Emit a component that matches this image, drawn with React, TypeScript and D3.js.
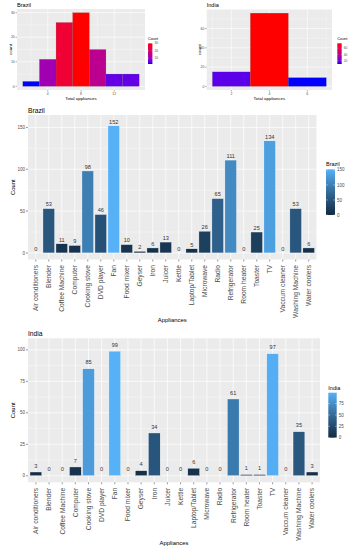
import * as d3 from "d3";

const categories = [
  "Air conditioners", "Blender", "Coffee Machine", "Computer", "Cooking stove",
  "DVD player", "Fan", "Food mixer", "Geyser", "Iron", "Juicer", "Kettle",
  "Laptop/Tablet", "Microwave", "Radio", "Refrigerator", "Room heater",
  "Toaster", "TV", "Vaccum cleaner", "Washing Machine", "Water coolers",
];
const brazilCounts = [0, 53, 11, 9, 98, 46, 152, 10, 2, 6, 13, 0, 5, 26, 65, 111, 0, 25, 134, 0, 53, 6];
const indiaCounts = [3, 0, 0, 7, 85, 0, 99, 0, 4, 34, 0, 0, 6, 0, 0, 61, 1, 1, 97, 0, 35, 3];
const brazilYTicks = [0, 50, 100, 150];
const indiaYTicks = [0, 25, 50, 75, 100];
const brazilLegendTicks = [0, 50, 100, 150];
const indiaLegendTicks = [0, 25, 50, 75];

// histograms of total appliances per household
const binWidth = 2;
const brazilBinStarts = [1, 3, 5, 7, 9, 11, 13];
const brazilBinCounts = [2, 11, 26, 30, 15, 5, 5];
const brazilHistXTicks = [4, 8, 12];
const brazilHistYTicks = [0, 10, 20, 30];
const brazilHistLegendTicks = [10, 20, 30];
const indiaBinStarts = [1, 3, 5];
const indiaBinCounts = [15, 76, 9];
const indiaHistXTicks = [2, 4, 6];
const indiaHistYTicks = [0, 20, 40, 60];
const indiaHistLegendTicks = [20, 40, 60];

const font = "Liberation Sans, Arial, sans-serif";
const panelBg = "#EBEBEB";
const tickCol = "#4D4D4D";

function minorBreaks(major: number[], domain: number[]) {
  const step = major[1] - major[0];
  const out: number[] = [];
  for (let v = major[0] - step / 2; v <= domain[1]; v += step) if (v >= domain[0]) out.push(v);
  return out;
}

function ColorBar({ id, scale, ticks, x, y0, y1, w, title, titleSize, labelSize }: any) {
  const [lo, hi] = scale.domain();
  const ly = d3.scaleLinear([lo, hi], [y1, y0]);
  const stops = d3.range(0, 1.0001, 0.1);
  return (
    <g>
      <defs>
        <linearGradient id={id} x1="0" y1="1" x2="0" y2="0">
          {stops.map((t) => (
            <stop key={t} offset={t} stopColor={scale(lo + t * (hi - lo))} />
          ))}
        </linearGradient>
      </defs>
      <text x={x} y={y0 - 3} fontSize={titleSize} fill="#000">{title}</text>
      <rect x={x} y={y0} width={w} height={y1 - y0} fill={`url(#${id})`} />
      {ticks.map((t: number) => (
        <g key={t}>
          <line x1={x} x2={x + w * 0.2} y1={ly(t)} y2={ly(t)} stroke="#fff" strokeWidth={0.4} />
          <line x1={x + w * 0.8} x2={x + w} y1={ly(t)} y2={ly(t)} stroke="#fff" strokeWidth={0.4} />
          <text x={x + w + 2} y={ly(t)} dy="0.35em" fontSize={labelSize} fill={tickCol}>{t}</text>
        </g>
      ))}
    </g>
  );
}

function Histogram({ id, title, starts, counts, xTicks, yTicks, legendTicks, left, right, top, bottom, legendX }: any) {
  const x0 = d3.min(starts as number[])!;
  const x1 = d3.max(starts as number[])! + binWidth;
  const pad = (x1 - x0) * 0.05;
  const x = d3.scaleLinear([x0 - pad, x1 + pad], [left, right]);
  const maxC = d3.max(counts as number[])!;
  const y = d3.scaleLinear([-maxC * 0.05, maxC * 1.05], [bottom, top]);
  const color = d3
    .scaleLinear<string>([d3.min(counts as number[])!, maxC], ["blue", "red"])
    .interpolate(d3.interpolateLab);
  const xMinor = minorBreaks(xTicks, x.domain());
  const yMinor = minorBreaks(yTicks, y.domain());
  return (
    <g fontFamily={font}>
      <text x={left} y={7.3} fontSize={5.6} fill="#000">{title}</text>
      <rect x={left} y={top} width={right - left} height={bottom - top} fill={panelBg} />
      {xMinor.map((v) => (
        <line key={"xm" + v} x1={x(v)} x2={x(v)} y1={top} y2={bottom} stroke="#fff" strokeWidth={0.3} />
      ))}
      {yMinor.map((v) => (
        <line key={"ym" + v} x1={left} x2={right} y1={y(v)} y2={y(v)} stroke="#fff" strokeWidth={0.3} />
      ))}
      {xTicks.map((v: number) => (
        <line key={"xM" + v} x1={x(v)} x2={x(v)} y1={top} y2={bottom} stroke="#fff" strokeWidth={0.6} />
      ))}
      {yTicks.map((v: number) => (
        <line key={"yM" + v} x1={left} x2={right} y1={y(v)} y2={y(v)} stroke="#fff" strokeWidth={0.6} />
      ))}
      {starts.map((s: number, i: number) => (
        <rect
          key={i}
          x={x(s)}
          y={y(counts[i])}
          width={x(s + binWidth) - x(s)}
          height={y(0) - y(counts[i])}
          fill={color(counts[i])}
          stroke="#555"
          strokeOpacity={0.5}
          strokeWidth={0.3}
        />
      ))}
      {xTicks.map((v: number) => (
        <g key={"xt" + v}>
          <line x1={x(v)} x2={x(v)} y1={bottom} y2={bottom + 1.5} stroke="#333" strokeWidth={0.4} />
          <text x={x(v)} y={bottom + 3.6} dy="0.35em" textAnchor="middle" fontSize={3.4} fill={tickCol}>{v}</text>
        </g>
      ))}
      {yTicks.map((v: number) => (
        <g key={"yt" + v}>
          <line x1={left - 1.5} x2={left} y1={y(v)} y2={y(v)} stroke="#333" strokeWidth={0.4} />
          <text x={left - 2.3} y={y(v)} dy="0.35em" textAnchor="end" fontSize={3.4} fill={tickCol}>{v}</text>
        </g>
      ))}
      <text x={(left + right) / 2} y={100.3} textAnchor="middle" fontSize={4.4} fill="#000">Total appliances</text>
      <text
        transform={`translate(${left - 7},${(top + bottom) / 2}) rotate(-90)`}
        textAnchor="middle"
        dy="0.35em"
        fontSize={4.4}
        fill="#000"
      >
        count
      </text>
      <ColorBar id={id} scale={color} ticks={legendTicks} x={legendX} y0={43.3} y1={64} w={4.4}
        title="Count" titleSize={3.8} labelSize={3.2} />
    </g>
  );
}

function BarChart({ id, title, values, yTicks, legendTicks, left, right, top, bottom, titleY, legend }: any) {
  const x = d3.scaleBand(categories, [left, right]).paddingInner(0.1).paddingOuter(0.15);
  const maxV = d3.max(values as number[])!;
  const maxL = maxV + 5;
  const y = d3.scaleLinear([-maxL * 0.05, maxL * 1.05], [bottom, top]);
  const color = d3
    .scaleLinear<string>([0, maxV], ["#132B43", "#56B1F7"])
    .interpolate(d3.interpolateLab);
  const yMinor = minorBreaks(yTicks, y.domain());
  const cx = (c: string) => x(c)! + x.bandwidth() / 2;
  return (
    <g fontFamily={font}>
      <text x={left} y={titleY} fontSize={6.7} fill="#000">{title}</text>
      <rect x={left} y={top} width={right - left} height={bottom - top} fill={panelBg} />
      {yMinor.map((v) => (
        <line key={"ym" + v} x1={left} x2={right} y1={y(v)} y2={y(v)} stroke="#fff" strokeWidth={0.35} />
      ))}
      {yTicks.map((v: number) => (
        <line key={"yM" + v} x1={left} x2={right} y1={y(v)} y2={y(v)} stroke="#fff" strokeWidth={0.7} />
      ))}
      {categories.map((c) => (
        <line key={"xM" + c} x1={cx(c)} x2={cx(c)} y1={top} y2={bottom} stroke="#fff" strokeWidth={0.7} />
      ))}
      {categories.map((c, i) => (
        <g key={"b" + c}>
          {values[i] > 0 && (
            <rect
              x={x(c)}
              y={y(values[i])}
              width={x.bandwidth()}
              height={y(0) - y(values[i])}
              fill={color(values[i])}
              stroke="#fff"
              strokeWidth={0.4}
            />
          )}
          <text x={cx(c)} y={y(values[i] + 5)} dy="0.35em" textAnchor="middle" fontSize={5.6} fill="#333">
            {values[i]}
          </text>
        </g>
      ))}
      {yTicks.map((v: number) => (
        <g key={"yt" + v}>
          <line x1={left - 2} x2={left} y1={y(v)} y2={y(v)} stroke="#333" strokeWidth={0.5} />
          <text x={left - 3} y={y(v)} dy="0.35em" textAnchor="end" fontSize={4.5} fill={tickCol}>{v}</text>
        </g>
      ))}
      {categories.map((c) => (
        <g key={"xt" + c}>
          <line x1={cx(c)} x2={cx(c)} y1={bottom} y2={bottom + 2} stroke="#333" strokeWidth={0.5} />
          <text
            transform={`translate(${cx(c)},${bottom + 5.5}) rotate(-90)`}
            textAnchor="end"
            dy="0.35em"
            fontSize={6.7}
            fill={tickCol}
          >
            {c}
          </text>
        </g>
      ))}
      <text x={(left + right) / 2} y={bottom + 62.5} textAnchor="middle" fontSize={5.9} fill="#000">Appliances</text>
      <text
        transform={`translate(12.5,${(top + bottom) / 2}) rotate(-90)`}
        textAnchor="middle"
        dy="0.35em"
        fontSize={5.9}
        fill="#000"
      >
        Count
      </text>
      <ColorBar id={id} scale={color} ticks={legendTicks} x={legend.x} y0={legend.y0} y1={legend.y1} w={legend.w}
        title={title} titleSize={5.5} labelSize={4.5} />
    </g>
  );
}

export default function App() {
  return (
    <svg width={353} height={550} style={{ position: "absolute", left: 0, top: 0, background: "#fff" }}>
      <Histogram id="hb" title="Brazil" starts={brazilBinStarts} counts={brazilBinCounts}
        xTicks={brazilHistXTicks} yTicks={brazilHistYTicks} legendTicks={brazilHistLegendTicks}
        left={17} right={145} top={9} bottom={90} legendX={148} />
      <Histogram id="hi" title="India" starts={indiaBinStarts} counts={indiaBinCounts}
        xTicks={indiaHistXTicks} yTicks={indiaHistYTicks} legendTicks={indiaHistLegendTicks}
        left={206.7} right={332} top={9.5} bottom={90} legendX={337.3} />
      <BarChart id="bb" title="Brazil" values={brazilCounts} yTicks={brazilYTicks} legendTicks={brazilLegendTicks}
        left={28} right={316.5} top={115} bottom={259.5} titleY={112.5}
        legend={{ x: 326, y0: 169.3, y1: 215, w: 9 }} />
      <BarChart id="bi" title="India" values={indiaCounts} yTicks={indiaYTicks} legendTicks={indiaLegendTicks}
        left={28} right={320} top={338.3} bottom={482.3} titleY={335.5}
        legend={{ x: 328.3, y0: 392.7, y1: 437.7, w: 8.4 }} />
    </svg>
  );
}
